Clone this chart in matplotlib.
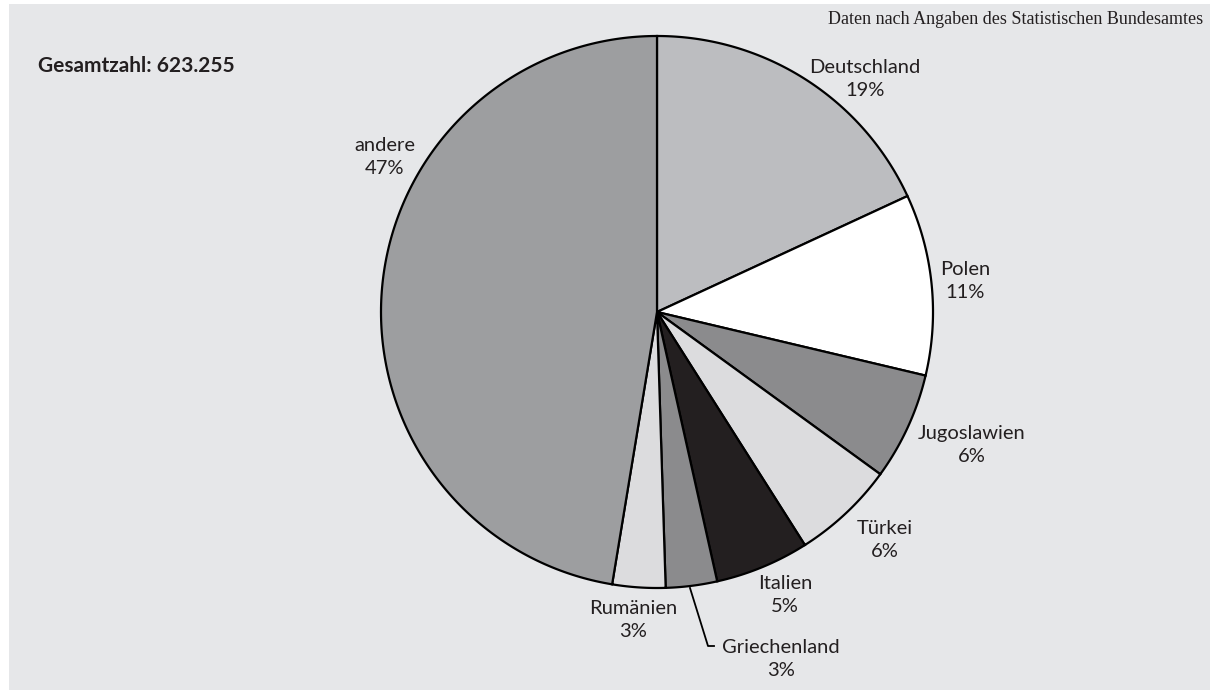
import numpy as np
import matplotlib
matplotlib.use("Agg")
import matplotlib.pyplot as plt
from matplotlib.patches import Rectangle

# data
countries = ["Deutschland", "Polen", "Jugoslawien", "Türkei", "Italien",
             "Griechenland", "Rumänien", "andere"]
shares = [18.1, 10.6, 6.3, 6.0, 5.5, 3.0, 3.1, 47.4]
pct_labels = ["19%", "11%", "6%", "6%", "5%", "3%", "3%", "47%"]
colors = ["#bcbdc0", "#ffffff", "#8b8b8d", "#dcdcde", "#231f20",
          "#8b8b8d", "#dcdcde", "#9d9ea0"]

# label anchor positions in pixels
label_pos = [(865, 79), (965, 281), (972, 445), (885, 540), (785, 595),
             (781, 659), (633, 620), (385, 157)]

bg = "#e6e7e9"
txt = "#231f20"

cx, cy, r = 657, 312, 276


def wedge(a0, a1):
    t = np.linspace(np.radians(a0), np.radians(a1), 200)
    xs = cx + r * np.cos(t)
    ys = cy - r * np.sin(t)
    return np.r_[cx, xs, cx], np.r_[cy, ys, cy]


fig = plt.figure(figsize=(12.1, 6.92), dpi=100)
ax = fig.add_axes([0, 0, 1, 1])
ax.set_xlim(0, 1210)
ax.set_ylim(692, 0)
ax.axis("off")

ax.add_patch(Rectangle((9, 4), 1201, 686, facecolor=bg, edgecolor="none"))

start = 90.0
for share, col in zip(shares, colors):
    end = start - share * 3.6
    xs, ys = wedge(end, start)
    ax.fill(xs, ys, facecolor=col, edgecolor="black", linewidth=1.6,
            joinstyle="miter")
    start = end

for name, pct, (x, y) in zip(countries, pct_labels, label_pos):
    ax.text(x, y, name + "\n" + pct, ha="center", va="center",
            fontsize=14.5, family="Lato", color=txt, linespacing=1.45)

# leader line for Griechenland
ax.plot([690, 708, 714], [588, 646, 646], color="black", linewidth=1.3)

ax.text(38, 66, "Gesamtzahl: 623.255", ha="left", va="center",
        fontsize=15, fontweight="bold", family="Lato", color=txt)
ax.text(1203, 19, "Daten nach Angaben des Statistischen Bundesamtes",
        ha="right", va="center", fontsize=13, family="Liberation Serif",
        color=txt)

fig.savefig("out.png", dpi=100, facecolor="white")
